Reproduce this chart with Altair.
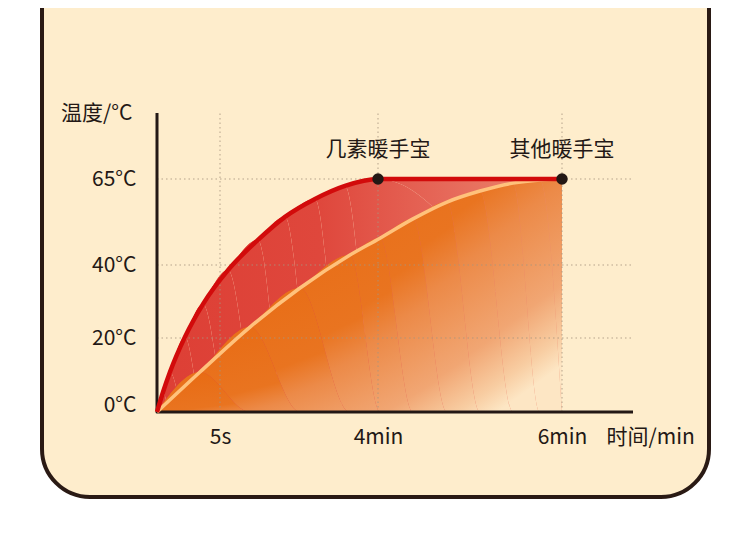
import altair as alt
import pandas as pd

# ---- data ----
# time in seconds, temperature in °C
red_t = [0, 0.48, 1.03, 2.22, 3.65, 16.9, 61.5, 101.7, 146.3, 190.9, 240, 360]
red_v = [0, 5.4, 10.8, 20.3, 29.3, 38.6, 47.3, 54.0, 59.2, 63.0, 65, 65]

other_t = [0, 3.41, 49.6, 124, 198.3, 241.3, 262.8, 285, 306.5, 328, 345.6, 360]
other_v = [0, 10.8, 23.0, 33.7, 42.9, 47.8, 53.4, 58.3, 61.5, 63.8, 64.7, 65]

x_ticks = [5, 240, 360]
x_tick_labels = ["5s", "4min", "6min"]
y_ticks = [0, 20, 40, 65]

x_end = 405
y_end = 84

point_t = [240, 360]
point_v = [65, 65]
point_labels = ["几素暖手宝", "其他暖手宝"]

FONT = "Noto Sans CJK SC"
INK = "#231815"
CURVE = "monotone"

# ---- tables ----
red_df = pd.DataFrame({"t": red_t, "v": red_v, "i": list(range(len(red_t)))})
other_df = pd.DataFrame({"t": other_t, "v": other_v, "i": list(range(len(other_t)))})
grid_h_df = pd.DataFrame({"t": [0] * 3, "t2": [x_end] * 3, "v": [20, 40, 65]})
grid_v_df = pd.DataFrame({"t": x_ticks, "v": [0] * 3, "v2": [y_end] * 3})
axis_df = pd.DataFrame({"t": [0, 0, x_end], "v": [y_end, 0, 0], "i": [0, 1, 2]})
pts_df = pd.DataFrame({"t": point_t, "v": point_v, "label": point_labels})

label_expr = " : ".join(
    f"datum.value == {v} ? '{l}'" for v, l in zip(x_ticks[:-1], x_tick_labels[:-1])
) + f" : '{x_tick_labels[-1]}'"

xscale = alt.Scale(domain=[0, 5, 240, 360, x_end], range=[115, 178, 336, 520, 591], zero=False, nice=False)
yscale = alt.Scale(domain=[0, 20, 40, 65, y_end], range=[464, 390, 317, 231, 165], zero=False, nice=False)

xaxis = alt.Axis(
    values=x_ticks, labelExpr=label_expr, title="时间/min", offset=-59.5,
    labelPadding=0, labelBaseline="middle", labelFlush=False, labelOverlap=False,
    titleX=564, titleY=0, titleAlign="left", titleBaseline="middle", titleAnchor="start",
)
yaxis = alt.Axis(
    values=y_ticks, labelExpr="datum.value + '°C'", title="温度/°C", offset=-94,
    labelPadding=0, labelAlign="right", labelBaseline="middle", labelFlush=False, labelOverlap=False,
    labelOffset={"condition": {"test": "datum.value == 0", "value": -7}, "value": 0},
    titleAngle=0, titleX=-4, titleY=165, titleAlign="right", titleBaseline="middle",
)

X = alt.X("t:Q", scale=xscale, axis=xaxis)
Y = alt.Y("v:Q", scale=yscale, axis=yaxis)

red_grad = alt.Gradient(
    gradient="linear", x1=0, y1=0, x2=1, y2=0,
    stops=[
        alt.GradientStop(color="#DD3F35", offset=0),
        alt.GradientStop(color="#DF473C", offset=0.4),
        alt.GradientStop(color="#E6695A", offset=0.72),
        alt.GradientStop(color="#EC8C6E", offset=1),
    ],
)
orange_grad = alt.Gradient(
    gradient="linear", x1=0, y1=0, x2=1, y2=0.8,
    stops=[
        alt.GradientStop(color="#E86A12", offset=0),
        alt.GradientStop(color="#E97420", offset=0.5),
        alt.GradientStop(color="#EC8A48", offset=0.62),
        alt.GradientStop(color="#F1A673", offset=0.83),
        alt.GradientStop(color="#F8CDA2", offset=0.94),
        alt.GradientStop(color="#FDE6C4", offset=1),
    ],
)

red_area = alt.Chart(red_df).mark_area(color=red_grad, interpolate=CURVE).encode(
    x=X, y=Y, order="i:Q"
)
other_area = alt.Chart(other_df).mark_area(color=orange_grad, interpolate=CURVE).encode(
    x=X, y=Y, order="i:Q"
)
grid_h = alt.Chart(grid_h_df).mark_rule(
    color="#A8967E", strokeWidth=1.5, strokeDash=[1.5, 3], opacity=0.55
).encode(x=X, x2="t2:Q", y=Y)
grid_v = alt.Chart(grid_v_df).mark_rule(
    color="#A8967E", strokeWidth=1.5, strokeDash=[1.5, 3], opacity=0.55
).encode(x=X, y=Y, y2="v2:Q")
axis_line = alt.Chart(axis_df).mark_line(
    color=INK, strokeWidth=3, strokeJoin="round", strokeCap="butt"
).encode(x=X, y=Y, order="i:Q")
other_line = alt.Chart(other_df).mark_line(
    color="#FFC27C", strokeWidth=3.5, interpolate=CURVE
).encode(x=X, y=Y, order="i:Q")
red_line = alt.Chart(red_df).mark_line(
    color="#D20B0B", strokeWidth=4.5, interpolate=CURVE
).encode(x=X, y=Y, order="i:Q")
points = alt.Chart(pts_df).mark_point(
    filled=True, color=INK, size=130, opacity=1
).encode(x=X, y=Y)
labels = alt.Chart(pts_df).mark_text(
    font=FONT, fontSize=21, color=INK, dy=-29, baseline="middle", align="center"
).encode(x=X, y=Y, text="label:N")

chart = alt.layer(
    red_area, other_area, grid_h, grid_v, axis_line, other_line, red_line, points, labels
).properties(
    width=667,
    height=549,
    padding={"left": 34, "top": -60, "right": 12, "bottom": 6},
    autosize=alt.AutoSizeParams(type="none"),
    background="#FFFFFF",
).configure_view(
    fill="#FEEDCC", stroke="#2A1A14", strokeWidth=4, cornerRadius=48
).configure_axis(
    domain=False, ticks=False, grid=False,
    labelFont=FONT, labelFontSize=21, labelColor=INK,
    titleFont=FONT, titleFontSize=21, titleColor=INK, titleFontWeight="normal",
)

chart.save("out.html", embed_options={"renderer": "svg", "actions": False})
